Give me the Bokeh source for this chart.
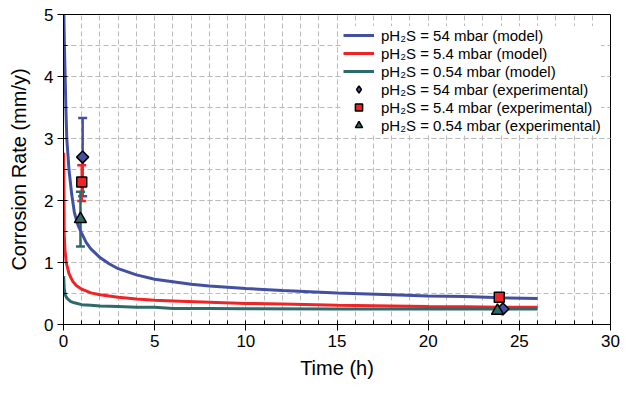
import math
from bokeh.plotting import figure
from bokeh.models import (ColumnDataSource, Whisker, TeeHead, SingleIntervalTicker,
                          Legend, LegendItem)
from bokeh.embed import file_html
from bokeh.resources import INLINE

# ---- model curves ----
t_54 = [0.02, 0.05, 0.09, 0.13, 0.18, 0.3, 0.45, 0.6, 0.8, 1.0, 1.25, 1.5, 2.0, 2.5,
        3.0, 4.0, 5.0, 6.0, 7.0, 8.0, 10, 12, 15, 18, 20, 22, 24, 26]
cr_54 = [5.0, 4.5, 4.0, 3.5, 3.0, 2.5, 2.1, 1.8, 1.6, 1.47, 1.32, 1.22, 1.08, 0.98,
         0.9, 0.8, 0.73, 0.69, 0.65, 0.62, 0.58, 0.55, 0.51, 0.48, 0.46, 0.45, 0.43, 0.42]

t_5_4 = [0.01, 0.04, 0.08, 0.15, 0.3, 0.5, 0.7, 1.0, 1.5, 2.0, 3.0, 4.0, 5.0, 6.0,
         8.0, 10, 12, 15, 18, 20, 22, 24, 26]
cr_5_4 = [2.77, 1.45, 1.2, 1.0, 0.82, 0.7, 0.63, 0.57, 0.51, 0.48, 0.44, 0.41, 0.39, 0.38,
          0.36, 0.34, 0.33, 0.31, 0.30, 0.29, 0.285, 0.28, 0.28]

t_0_54 = [0.01, 0.04, 0.1, 0.2, 0.4, 0.6, 1.0, 1.5, 2.0, 3.0, 4.0, 5.0, 6.0, 8.0,
          10, 15, 20, 26]
cr_0_54 = [0.78, 0.58, 0.47, 0.42, 0.37, 0.35, 0.32, 0.31, 0.30, 0.29, 0.28, 0.28, 0.26, 0.26,
           0.255, 0.25, 0.25, 0.25]

# ---- experimental points ----
exp_t_54 = [1.05, 24.1]
exp_cr_54 = [2.7, 0.25]
exp_t_5_4 = [1.0, 23.9]
exp_cr_5_4 = [2.3, 0.44]
exp_t_0_54 = [0.93, 23.8]
exp_cr_0_54 = [1.7, 0.22]

# error bars (first point of each series)
err_t = [1.05, 1.0, 0.93]
err_low = [2.07, 1.99, 1.26]
err_high = [3.33, 2.57, 2.14]

BLUE = "#4350A2"
RED = "#EE2426"
TEAL = "#2F6A6A"
err_colors = [BLUE, RED, TEAL]

FONT = "Liberation Sans"

p = figure(width=620, height=384, x_range=(0, 30), y_range=(0, 5),
           output_backend="svg", toolbar_location=None,
           min_border_left=63, min_border_right=10, min_border_top=14, min_border_bottom=60)

p.outline_line_color = "black"
p.outline_line_width = 1
p.background_fill_color = "white"

for ax in (p.xaxis[0], p.yaxis[0]):
    ax.axis_line_color = "black"
    ax.major_tick_line_color = "black"
    ax.minor_tick_line_color = "black"
    ax.major_tick_in = 0
    ax.major_tick_out = 6
    ax.minor_tick_in = 4
    ax.minor_tick_out = 0
    ax.major_label_text_font = FONT
    ax.major_label_text_font_size = "17px"
    ax.major_label_text_color = "black"
    ax.axis_label_text_font = FONT
    ax.axis_label_text_font_size = "20px"
    ax.axis_label_text_font_style = "normal"
    ax.axis_label_text_color = "black"

p.xaxis.ticker = SingleIntervalTicker(interval=5, num_minor_ticks=5)
p.yaxis.ticker = SingleIntervalTicker(interval=1, num_minor_ticks=2)
p.xaxis.axis_label = "Time (h)"
p.yaxis.axis_label = "Corrosion Rate (mm/y)"
p.xaxis.axis_label_standoff = 7
p.yaxis.axis_label_standoff = 11
p.xaxis.major_label_standoff = 4
p.yaxis.major_label_standoff = 4

for g in (p.xgrid[0], p.ygrid[0]):
    g.grid_line_color = "#BBBBBB"
    g.grid_line_dash = "5 3"
    g.grid_line_width = 1
    g.minor_grid_line_color = "#BBBBBB"
    g.minor_grid_line_dash = "5 3"
    g.minor_grid_line_width = 1

l1 = p.line(t_54, cr_54, line_color=BLUE, line_width=3)
l2 = p.line(t_5_4, cr_5_4, line_color=RED, line_width=3)
l3 = p.line(t_0_54, cr_0_54, line_color=TEAL, line_width=3)

for i in range(3):
    src = ColumnDataSource(dict(x=[err_t[i]], lo=[err_low[i]], hi=[err_high[i]]))
    w = Whisker(source=src, base="x", lower="lo", upper="hi", dimension="height",
                line_color=err_colors[i], line_width=2.5,
                upper_head=TeeHead(size=9, line_color=err_colors[i], line_width=2.5),
                lower_head=TeeHead(size=9, line_color=err_colors[i], line_width=2.5))
    p.add_layout(w)

# diamond glyph used for the legend entry (hidden under the rotated squares below)
s1_leg = p.scatter(exp_t_54, exp_cr_54, marker="diamond", size=8.5, fill_color=BLUE,
                   line_color="black", line_width=1.5)
s1 = p.scatter(exp_t_54, exp_cr_54, marker="square", angle=math.pi / 4, size=8.5,
               fill_color=BLUE, line_color="black", line_width=1.5)
s2 = p.scatter(exp_t_5_4, exp_cr_5_4, marker="square", size=10, fill_color=RED,
               line_color="black", line_width=1.5)
s3 = p.scatter(exp_t_0_54, exp_cr_0_54, marker="triangle", size=12, fill_color=TEAL,
               line_color="black", line_width=1.5)

labels = ["pH\u2082S = 54 mbar (model)", "pH\u2082S = 5.4 mbar (model)",
          "pH\u2082S = 0.54 mbar (model)", "pH\u2082S = 54 mbar (experimental)",
          "pH\u2082S = 5.4 mbar (experimental)", "pH\u2082S = 0.54 mbar (experimental)"]
rends = [l1, l2, l3, s1_leg, s2, s3]
legend = Legend(items=[LegendItem(label=lab, renderers=[r]) for lab, r in zip(labels, rends)],
                location=(280, 190))
legend.label_text_font = FONT
legend.label_text_font_size = "15px"
legend.label_text_color = "black"
legend.glyph_width = 31
legend.glyph_height = 18
legend.label_height = 18
legend.spacing = 0
legend.label_standoff = 7
legend.padding = 5
legend.margin = 0
legend.border_line_color = None
legend.background_fill_color = "white"
legend.background_fill_alpha = 1.0
p.add_layout(legend, "center")

open("out.html", "w").write(file_html(p, INLINE))
